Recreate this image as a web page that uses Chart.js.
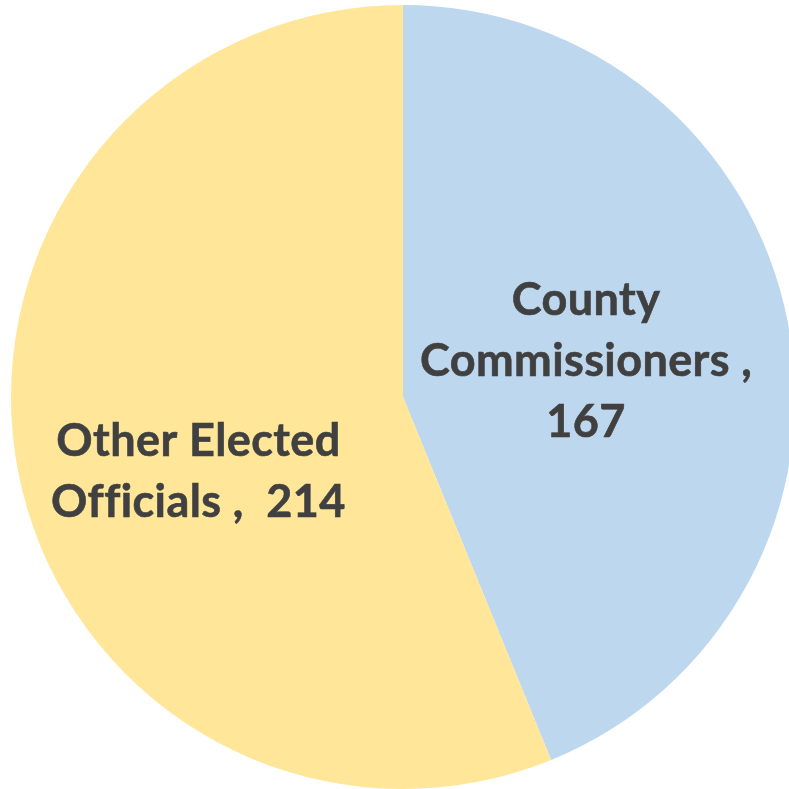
<!DOCTYPE html>
<html>
<head>
<meta charset="utf-8">
<script src="https://cdn.jsdelivr.net/npm/chart.js@4.4.0/dist/chart.umd.min.js"></script>
<style>
  html, body { margin: 0; padding: 0; background: #ffffff; overflow: hidden; }
  body { width: 789px; height: 789px; position: relative; }
  #wrap { position: absolute; left: 11px; top: 5px; width: 784px; height: 784px; }
</style>
</head>
<body>
<div id="wrap"><canvas id="pieChart"></canvas></div>
<script>
const categories = ["County Commissioners", "Other Elected Officials"]
const values = [167, 214]
// label lines as the chart shows them
const labelLines = [
  ["County", "Commissioners ,", "167"],
  ["Other Elected", "Officials ,  214"]
]
const colors = ["#BDD7EE", "#FFE699"]

// where each label sits: fraction of the radius and a small turn off the mid angle
const labelPlace = [
  { dist: 0.476, turn: 0 },
  { dist: 0.556, turn: -0.159 }
]

const sliceLabels = {
  id: "sliceLabels",
  afterDatasetsDraw(chart) {
    const { ctx } = chart
    const arcs = chart.getDatasetMeta(0).data
    ctx.save()
    ctx.font = "bold 45px Lato"
    ctx.letterSpacing = "0.4px"
    ctx.fillStyle = "#404040"
    ctx.strokeStyle = "#404040"
    ctx.lineWidth = 0.6
    ctx.textAlign = "center"
    ctx.textBaseline = "middle"
    arcs.forEach((arc, i) => {
      const p = arc.getProps(["x", "y", "startAngle", "endAngle", "outerRadius"], true)
      const mid = (p.startAngle + p.endAngle) / 2 + labelPlace[i].turn
      const r = p.outerRadius * labelPlace[i].dist
      const cx = p.x + Math.cos(mid) * r
      const cy = p.y + Math.sin(mid) * r
      const lines = labelLines[i]
      const lh = 61
      lines.forEach((line, j) => {
        const y = cy + (j - (lines.length - 1) / 2) * lh
        ctx.fillText(line, cx, y)
        ctx.strokeText(line, cx, y)
      })
    })
    ctx.restore()
  }
}

new Chart(document.getElementById("pieChart"), {
  type: "pie",
  data: {
    labels: categories,
    datasets: [
      {
        data: values,
        backgroundColor: colors,
        borderWidth: 0
      }
    ]
  },
  options: {
    responsive: true,
    maintainAspectRatio: false,
    animation: false,
    layout: { padding: 0 },
    plugins: {
      legend: { display: false },
      tooltip: { enabled: false }
    }
  },
  plugins: [sliceLabels]
})
</script>
</body>
</html>
